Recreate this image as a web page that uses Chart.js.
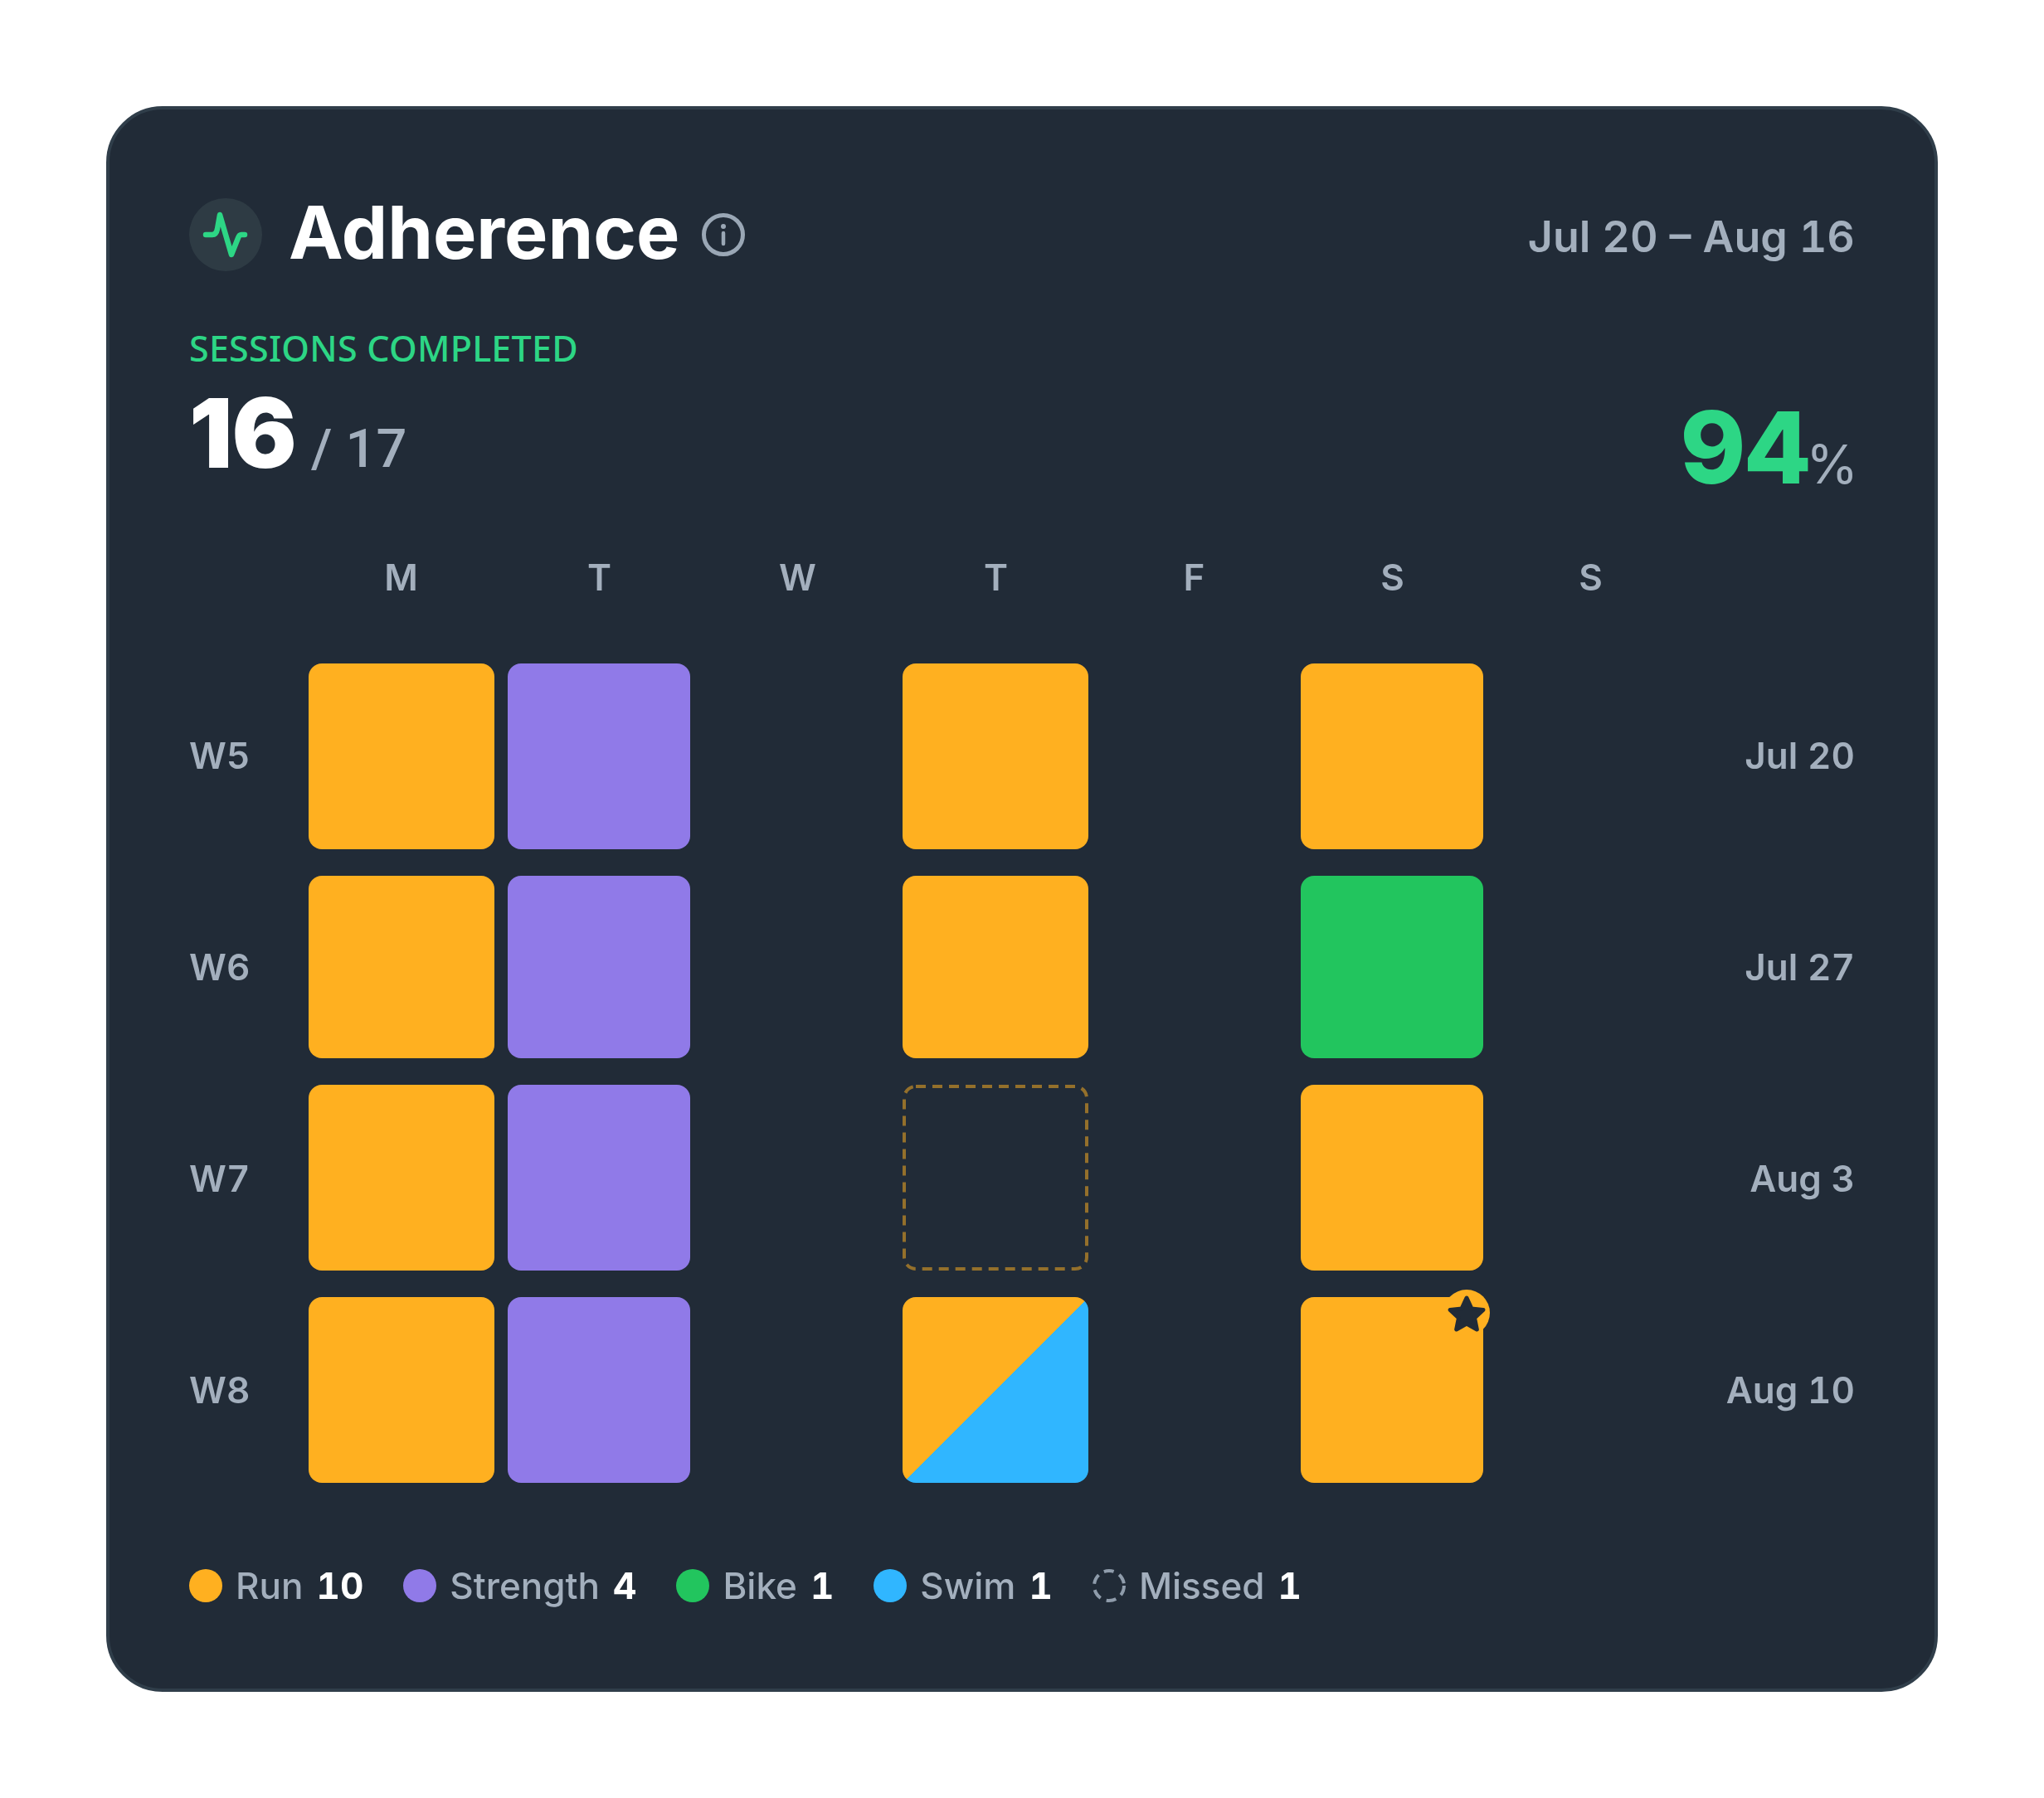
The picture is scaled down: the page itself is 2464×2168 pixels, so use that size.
<!DOCTYPE html>
<html lang="en">
<head>
<meta charset="utf-8">
<title>Adherence</title>
<script src="https://cdn.jsdelivr.net/npm/chart.js@4/dist/chart.umd.min.js"></script>
<style>
  html, body { margin: 0; background: #fff; }
  body { position: relative; width: 2464px; height: 2168px; overflow: hidden; font-family: Inter, sans-serif; }
  #card {
    position: absolute; left: 128px; top: 128px; width: 2208px; height: 1912px; box-sizing: border-box;
    background: #212b37; border: 4px solid #303e4a; border-radius: 68px;
  }
  canvas { position: absolute; left: 0; top: 0; font-variant-numeric: tabular-nums; }
  .t { position: absolute; line-height: 1; white-space: nowrap; }
  #badge { position: absolute; left: 228px; top: 239px; width: 88px; height: 88px; }
  #info { position: absolute; left: 846px; top: 257px; width: 52px; height: 52px; }
  #title { left: 348px; top: 236px; font-size: 88px; font-weight: 700; color: #fff; letter-spacing: 0; }
  #range { right: 228px; top: 260px; font-size: 52px; font-weight: 600; color: #a3afbd; font-variant-numeric: tabular-nums; }
  #eyebrow { left: 228px; top: 398px; font-family: "Noto Sans", sans-serif; font-size: 43px; font-weight: 500; letter-spacing: 0.25px; color: #2dd685; }
  #done { left: 228px; top: 464px; font-size: 116px; font-weight: 900; color: #fff; letter-spacing: -1px; }
  #total { left: 375px; top: 509px; font-family: Roboto, sans-serif; font-size: 65px; font-weight: 500; color: #a3afbd; }
  #pct { right: 224px; top: 480px; color: #2dd685; font-size: 120px; font-weight: 800; letter-spacing: -3px; }
  #pct span { font-size: 64px; font-weight: 400; color: #a3afbd; letter-spacing: 0; margin-left: -4px; }
  #legend { position: absolute; left: 228px; top: 1892px; display: flex; gap: 48px; font-size: 44px; font-weight: 500; line-height: 40px; color: #a3afbd; }
  #legend div { display: flex; align-items: center; gap: 16px; white-space: nowrap; }
  #legend i { display: block; width: 40px; height: 40px; border-radius: 50%; }
  #legend b { color: #fff; font-weight: 700; font-variant-numeric: tabular-nums; }
  #legend svg { display: block; width: 40px; height: 40px; }
</style>
</head>
<body>
<div id="card"></div>
<svg id="badge" viewBox="0 0 88 88">
  <circle cx="44" cy="44" r="44" fill="#2e3b44"/>
  <path d="M20 44H28C31 44 33 42 34 37L37 20L51 68L59 48C60 45 61 44 63 44H67" fill="none" stroke="#2dd685" stroke-width="6.500" stroke-linecap="round" stroke-linejoin="round"/>
</svg>
<div class="t" id="title">Adherence</div>
<svg id="info" viewBox="0 0 52 52">
  <circle cx="26" cy="26" r="23.500" fill="none" stroke="#9aa7b5" stroke-width="5"/>
  <circle cx="26" cy="16" r="3" fill="#9aa7b5"/>
  <path d="M26 24V37" stroke="#9aa7b5" stroke-width="4.500" stroke-linecap="round"/>
</svg>
<div class="t" id="range">Jul 20 – Aug 16</div>
<div class="t" id="eyebrow">SESSIONS COMPLETED</div>
<div class="t" id="done">16</div>
<div class="t" id="total">/ 17</div>
<div class="t" id="pct">94<span>%</span></div>
<canvas id="grid" width="2464" height="2168"></canvas>
<div id="legend"></div>

<script>
// Data
const days = ["Mon", "Tue", "Wed", "Thu", "Fri", "Sat", "Sun"];
const weeks = ["W5", "W6", "W7", "W8"];
const weekStarts = ["Jul 20", "Jul 27", "Aug 3", "Aug 10"];

const w5 = ["Run", "Strength", null, "Run", null, "Run", null];
const w6 = ["Run", "Strength", null, "Run", null, "Bike", null];
const w7 = ["Run", "Strength", null, "Missed", null, "Run", null];
const w8 = ["Run", "Strength", null, "Swim", null, "Run", null];
const schedule = [w5, w6, w7, w8];

const sessionTypes = ["Run", "Strength", "Bike", "Swim", "Missed"];
const sessionCounts = [10, 4, 1, 1, 1];

const RUN = "#ffb020";
const colors = { Run: RUN, Strength: "#907ae8", Bike: "#22c55e", Swim: "#30b6ff", Missed: "transparent" };
const CARD = "#212b37";
const GREY = "#a3afbd";
const CELL_HALF = 0.4373; // half a cell height, in rows

function cellsFor(type) {
  const cells = [];
  schedule.forEach((week, row) => {
    week.forEach((session, col) => {
      if (session === type) cells.push({ x: days[col], y: [row - CELL_HALF, row + CELL_HALF] });
    });
  });
  return cells;
}

// The swim cell on W8 is shared with a run, split along the diagonal
function swimFill(context) {
  const { x, y } = context.chart.scales;
  const raw = context.raw;
  if (!raw) return colors.Swim;
  const cx = x.getPixelForValue(days.indexOf(raw.x));
  const cy = y.getPixelForValue((raw.y[0] + raw.y[1]) / 2);
  if (!Number.isFinite(cx) || !Number.isFinite(cy)) return colors.Swim;
  const g = context.chart.ctx.createLinearGradient(cx - 112, cy - 112, cx + 112, cy + 112);
  g.addColorStop(0.5, RUN);
  g.addColorStop(0.5, colors.Swim);
  return g;
}

// Cells sit on a 4px grid in the reference
const snapCells = {
  id: "snapCells",
  afterDatasetsUpdate(chart) {
    const snap = (v) => Math.round(v / 4) * 4;
    chart.data.datasets.forEach((ds, i) => {
      chart.getDatasetMeta(i).data.forEach((el) => {
        const left = snap(el.x - el.width / 2);
        const right = snap(el.x + el.width / 2);
        const top = snap(Math.min(el.y, el.base));
        const bottom = snap(Math.max(el.y, el.base));
        el.x = (left + right) / 2;
        el.width = right - left;
        el.y = top;
        el.base = bottom;
        el.height = bottom - top;
      });
    });
  },
};

function starPath(ctx, cx, cy, outer, inner) {
  ctx.beginPath();
  for (let i = 0; i < 10; i++) {
    const r = i % 2 ? inner : outer;
    const a = -Math.PI / 2 + (i * Math.PI) / 5;
    ctx.lineTo(cx + r * Math.cos(a), cy + r * Math.sin(a));
  }
  ctx.closePath();
}

// Dashed outline for the missed session and star badge on the last Saturday
const cellExtras = {
  id: "cellExtras",
  afterDatasetsDraw(chart) {
    const { ctx, data } = chart;
    const missed = chart.getDatasetMeta(data.datasets.findIndex((d) => d.label === "Missed")).data;
    ctx.save();
    missed.forEach((el) => {
      ctx.beginPath();
      ctx.roundRect(el.x - el.width / 2 + 2, el.y + 2, el.width - 4, el.height - 4, 14);
      ctx.strokeStyle = "rgba(255,176,32,0.52)";
      ctx.lineWidth = 4;
      ctx.setLineDash([12, 8]);
      ctx.stroke();
    });
    ctx.setLineDash([]);

    const runs = chart.getDatasetMeta(data.datasets.findIndex((d) => d.label === "Run")).data;
    const last = runs[runs.length - 1];
    const bx = last.x + last.width / 2 - 20;
    const by = last.y + 19;
    ctx.fillStyle = RUN;
    ctx.beginPath();
    ctx.arc(bx, by, 28, 0, Math.PI * 2);
    ctx.fill();
    starPath(ctx, bx, by + 3, 21, 10);
    ctx.fillStyle = CARD;
    ctx.strokeStyle = CARD;
    ctx.lineWidth = 5;
    ctx.lineJoin = "round";
    ctx.fill();
    ctx.stroke();
    ctx.restore();
  },
};

const labelFont = { family: "Inter", size: 44, weight: "600" };

function rowAxis(position, width, labels) {
  return {
    type: "linear",
    position,
    reverse: true,
    min: -0.5,
    max: 3.5,
    grid: { display: false },
    border: { display: false },
    afterBuildTicks: (scale) => { scale.ticks = labels.map((_, i) => ({ value: i })); },
    afterFit: (scale) => { scale.width = width; },
    ticks: {
      color: GREY,
      font: labelFont,
      crossAlign: "far",
      padding: 0,
      labelOffset: 3,
      autoSkip: false,
      callback: (v) => labels[v],
    },
  };
}

new Chart(document.getElementById("grid"), {
  type: "bar",
  data: {
    labels: days,
    datasets: sessionTypes.map((type) => ({
      label: type,
      data: cellsFor(type),
      backgroundColor: type === "Swim" ? swimFill : colors[type],
      borderSkipped: false,
      borderWidth: 0,
      borderRadius: 16,
      grouped: false,
      categoryPercentage: 1,
      barPercentage: 0.933,
    })),
  },
  plugins: [snapCells, cellExtras],
  options: {
    responsive: false,
    devicePixelRatio: 1,
    animation: false,
    layout: { padding: { left: 228, right: 228, top: 0, bottom: 365 } },
    plugins: { legend: { display: false }, tooltip: { enabled: false } },
    scales: {
      x: {
        position: "top",
        grid: { display: false },
        border: { display: false },
        afterFit: (scale) => { scale.height = 783.6; },
        ticks: {
          color: GREY,
          font: labelFont,
          padding: 50,
          maxRotation: 0,
          callback: (v, i) => days[i][0],
        },
      },
      y: rowAxis("left", 136, weeks),
      yDates: rowAxis("right", 199, weekStarts),
    },
  },
});

// Legend
const legend = document.getElementById("legend");
sessionTypes.forEach((type, i) => {
  const item = document.createElement("div");
  const mark = type === "Missed"
    ? '<svg viewBox="0 0 40 40"><circle cx="20" cy="20" r="18" fill="none" stroke="#8f9cab" stroke-width="4" stroke-dasharray="12 7.500"/></svg>'
    : `<i style="background:${colors[type]}"></i>`;
  item.innerHTML = `${mark}<span>${type}</span><b>${sessionCounts[i]}</b>`;
  legend.appendChild(item);
});
</script>
</body>
</html>
